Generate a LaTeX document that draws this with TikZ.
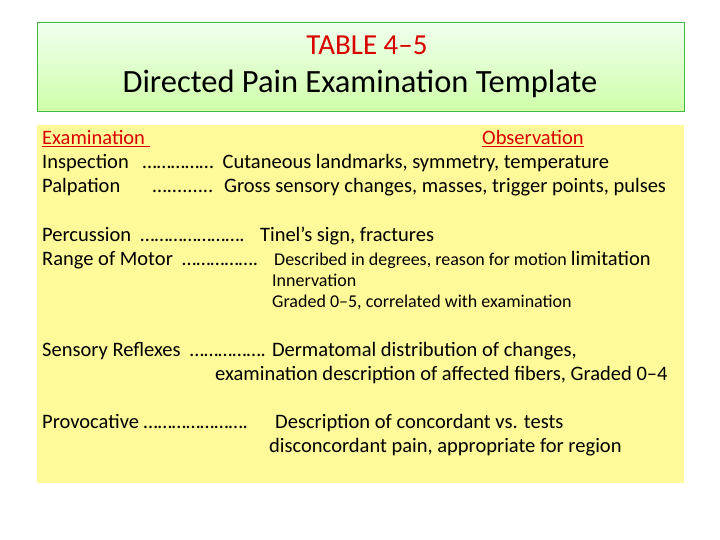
\documentclass[tikz,border=0pt]{standalone}
\usepackage{fontspec}
\setmainfont{Carlito}
\begin{document}
\begin{tikzpicture}[x=1pt,y=-1pt,
  t/.style={anchor=base west,inner sep=0pt,font=\fontsize{20.5}{23}\selectfont},
  s/.style={anchor=base west,inner sep=0pt,font=\fontsize{18}{20}\selectfont}]
\useasboundingbox (0,0) rectangle (720,540);
\fill[white] (0,0) rectangle (720,540);
\shade[top color=green!6!white,bottom color=green!22!white!85!yellow,draw=green!45!gray] (37,22) rectangle (684,111);
\node[anchor=base,inner sep=0pt,text=red!85!black,font=\fontsize{29}{32}\selectfont] (tt) at (367,55) {TABLE 4–5};
\node[anchor=base,inner sep=0pt,font=\fontsize{32.5}{36}\selectfont] (ti) at (360,93) {Directed Pain Examination Template};
\fill[yellow!40!white] (37,125) rectangle (684,483);
\node[t,text=red!85!black] (e) at (42,145) {\underline{Examination\ }};
\node[t,text=red!85!black] (o) at (482,145) {\underline{Observation}};
\node[t] (a1) at (42,169) {Inspection \ \ …………… \ Cutaneous landmarks, symmetry, temperature};
\node[t] (a2) at (42,193) {Palpation \ \ \ \ \ \ …......... \ Gross sensory changes, masses, trigger points, pulses};
\node[t] (a3) at (42,241) {Percussion \ …………………. \ \ Tinel’s sign, fractures};
\node[t] (a4) at (42,265) {Range of Motor \ …………….};
\node[s] (a4b) at (274,265) {Described in degrees, reason for motion \fontsize{20.5}{23}\selectfont limitation};
\node[s] (a5) at (272,286) {Innervation};
\node[s] (a6) at (272,307) {Graded 0–5, correlated with examination};
\node[t] (a7) at (42,356) {Sensory Reflexes \ ……………. Dermatomal distribution of changes,};
\node[t] (a8) at (215,380) {examination description of affected fibers, Graded 0–4};
\node[t] (a9) at (42,428) {Provocative ………………….};
\node[t] (a10) at (275,428) {Description of concordant vs. tests};
\node[t] (a11) at (269,452) {disconcordant pain, appropriate for region};
\end{tikzpicture}
\end{document}
